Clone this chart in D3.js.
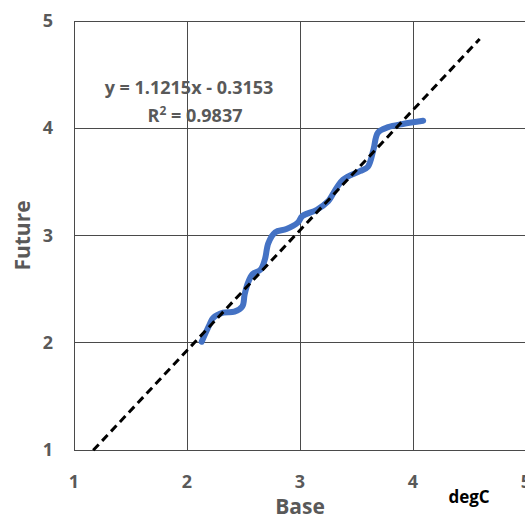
<!DOCTYPE html>
<html>
<head>
<meta charset="utf-8">
<script src="https://cdn.jsdelivr.net/npm/d3@7"></script>
<style>
  html, body { margin: 0; padding: 0; background: #fff; }
  svg { display: block; }
  text { font-family: "Open Sans", "Liberation Sans", sans-serif; font-weight: bold; }
</style>
</head>
<body>
<svg id="chart" width="525" height="517"></svg>
<script>
// Base vs Future temperature (degC), sorted pairs
const baseValues = [2.13, 2.20, 2.23, 2.32, 2.42, 2.49, 2.51, 2.54, 2.58, 2.65, 2.69, 2.72, 2.78, 2.88, 2.98, 3.02, 3.15, 3.25, 3.27, 3.38, 3.53, 3.60, 3.65, 3.69, 3.78, 3.91, 4.09];
const futureValues = [2.01, 2.17, 2.23, 2.28, 2.29, 2.34, 2.45, 2.56, 2.64, 2.68, 2.78, 2.93, 3.03, 3.06, 3.12, 3.18, 3.24, 3.32, 3.35, 3.52, 3.60, 3.64, 3.80, 3.96, 4.01, 4.04, 4.07];

// Linear trendline fitted to the pairs
const slope = 1.1215;
const intercept = -0.3153;
const rSquared = 0.9837;
const trendRange = [1.17, 4.59];

const xTicks = [1, 2, 3, 4, 5];
const yTicks = [1, 2, 3, 4, 5];

const svg = d3.select("#chart");

const x = d3.scaleLinear().domain([1, 5]).range([74, 526]);
const y = d3.scaleLinear().domain([1, 5]).range([450, 21]);

const gridColor = "#4a4a4a";
const textGray = "#595959";

// gridlines
svg.append("g").selectAll("line").data(xTicks).join("line")
  .attr("x1", d => x(d)).attr("x2", d => x(d))
  .attr("y1", y(1)).attr("y2", y(5))
  .attr("stroke", gridColor).attr("stroke-width", 1)
  .attr("shape-rendering", "crispEdges");
svg.append("g").selectAll("line").data(yTicks).join("line")
  .attr("x1", x(1)).attr("x2", x(5))
  .attr("y1", d => y(d)).attr("y2", d => y(d))
  .attr("stroke", gridColor).attr("stroke-width", 1)
  .attr("shape-rendering", "crispEdges");

// tick labels
svg.append("g").selectAll("text").data(xTicks).join("text")
  .attr("x", d => x(d)).attr("y", 488)
  .attr("text-anchor", "middle")
  .attr("font-size", 18).attr("fill", textGray)
  .text(d => d);
svg.append("g").selectAll("text").data(yTicks).join("text")
  .attr("x", 48).attr("y", d => y(d) + 6)
  .attr("text-anchor", "middle")
  .attr("font-size", 18).attr("fill", textGray)
  .text(d => d);

// axis titles
svg.append("text").attr("x", 300).attr("y", 514)
  .attr("text-anchor", "middle").attr("font-size", 21).attr("fill", textGray)
  .text("Base");
svg.append("text")
  .attr("transform", `translate(30, ${y(3)}) rotate(-90)`)
  .attr("text-anchor", "middle").attr("font-size", 21).attr("fill", textGray)
  .text("Future");
svg.append("text").attr("x", 469).attr("y", 503)
  .attr("text-anchor", "middle").attr("font-size", 17).attr("fill", "#000")
  .text("degC");

// data series
const pts = baseValues.map((b, i) => [b, futureValues[i]]);
svg.append("path")
  .datum(pts)
  .attr("fill", "none")
  .attr("stroke", "#4472C4")
  .attr("stroke-width", 6)
  .attr("stroke-linecap", "round")
  .attr("stroke-linejoin", "round")
  .attr("d", d3.line().x(d => x(d[0])).y(d => y(d[1])).curve(d3.curveCatmullRom));

// trendline
svg.append("path")
  .datum(trendRange.map(v => [v, slope * v + intercept]))
  .attr("fill", "none")
  .attr("stroke", "#000")
  .attr("stroke-width", 3)
  .attr("stroke-dasharray", "8,5")
  .attr("d", d3.line().x(d => x(d[0])).y(d => y(d[1])));

// equation label
const eq = svg.append("g").attr("fill", textGray).attr("font-size", 18);
eq.append("text").attr("x", 189).attr("y", 94).attr("text-anchor", "middle")
  .text(`y = ${slope}x - ${Math.abs(intercept)}`);
const r2 = eq.append("text").attr("x", 195).attr("y", 122).attr("text-anchor", "middle");
r2.append("tspan").text("R");
r2.append("tspan").attr("dy", -7).attr("font-size", 12).text("2");
r2.append("tspan").attr("dy", 7).text(` = ${rSquared}`);
</script>
</body>
</html>
